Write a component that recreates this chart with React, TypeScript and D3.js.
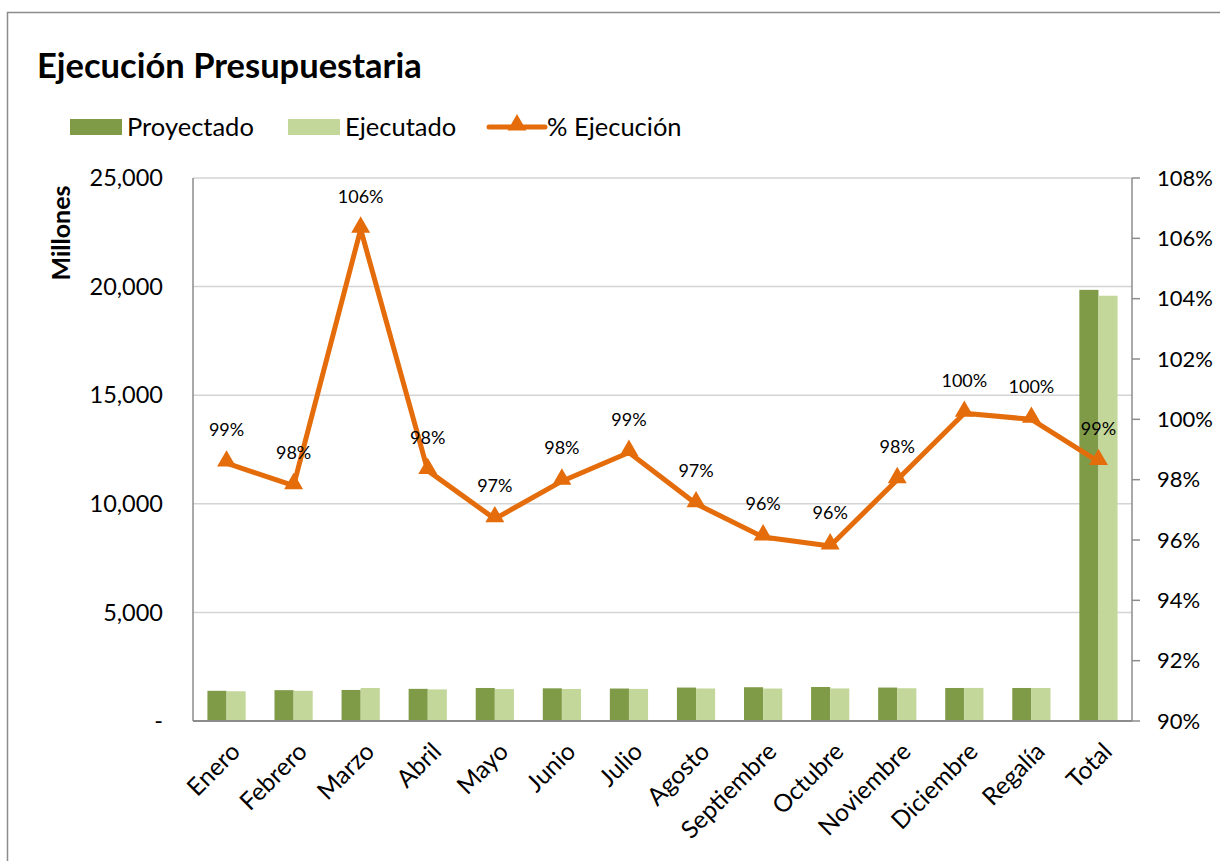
import React from 'react'
import * as d3 from 'd3'

const categories = ['Enero', 'Febrero', 'Marzo', 'Abril', 'Mayo', 'Junio', 'Julio', 'Agosto', 'Septiembre', 'Octubre', 'Noviembre', 'Diciembre', 'Regalía', 'Total']
const proyectado = [1390, 1420, 1430, 1480, 1520, 1505, 1495, 1540, 1555, 1565, 1540, 1520, 1520, 19850]
const ejecutado = [1370, 1390, 1520, 1455, 1470, 1475, 1478, 1497, 1495, 1500, 1509, 1523, 1520, 19580]
const pctEjecucion = [0.9855, 0.978, 1.063, 0.983, 0.967, 0.9795, 0.989, 0.972, 0.961, 0.958, 0.980, 1.002, 1.000, 0.986]
const leftTicks = [0, 5000, 10000, 15000, 20000, 25000]
const rightTicks = [0.90, 0.92, 0.94, 0.96, 0.98, 1.00, 1.02, 1.04, 1.06, 1.08]

const FONT = 'Lato, "Open Sans", sans-serif'
const C_PROY = '#809B48'
const C_EJEC = '#C4D79B'
const C_LINE = '#E46C0A'

export default function App() {
  const width = 1220
  const height = 861
  const plot = { left: 193, right: 1132, top: 178, bottom: 721 }

  const x = d3.scaleBand<string>()
    .domain(categories)
    .range([plot.left, plot.right])
    .paddingInner(0.43)
    .paddingOuter(0.215)
  const inner = d3.scaleBand<string>()
    .domain(['p', 'e'])
    .range([0, x.bandwidth()])
  const y = d3.scaleLinear().domain([0, 25000]).range([plot.bottom, plot.top])
  const yR = d3.scaleLinear().domain([0.9, 1.08]).range([plot.bottom, plot.top])
  const cx = (c: string) => (x(c) as number) + x.bandwidth() / 2

  const fmtL = (v: number) => (v === 0 ? '-' : d3.format(',')(v))
  const fmtR = d3.format('.0%')

  const line = d3.line<number>()
    .x((d, i) => cx(categories[i]))
    .y(d => yR(d))
  const tri = d3.symbol().type(d3.symbolTriangle).size(155)()

  return (
    <svg width={width} height={height} style={{ position: 'absolute', left: 0, top: 0, background: '#fff' }} fontFamily={FONT}>
      <rect x={0} y={0} width={width} height={height} fill="#fff" />
      {/* chart border */}
      <path d={`M7.5,${height + 5} V12.5 H${width + 5}`} fill="none" stroke="#8c8c8c" strokeWidth={1.5} />

      <text x={37} y={78} fontSize={34.5} fontWeight={700} fill="#000">Ejecución Presupuestaria</text>

      {/* legend */}
      <g fontSize={25.5} fill="#000">
        <rect x={70} y={119} width={52} height={16} fill={C_PROY} />
        <text x={127} y={136}>Proyectado</text>
        <rect x={288} y={119} width={52} height={16} fill={C_EJEC} />
        <text x={345} y={136}>Ejecutado</text>
        <line x1={489} x2={545} y1={127} y2={127} stroke={C_LINE} strokeWidth={5} strokeLinecap="round" />
        <path d={tri as string} transform="translate(517,125)" fill={C_LINE} />
        <text x={547} y={136}>% Ejecución</text>
      </g>

      {/* gridlines */}
      {leftTicks.filter(t => t > 0).map(t => (
        <line key={t} x1={plot.left} x2={plot.right} y1={y(t)} y2={y(t)} stroke="#d4d4d4" strokeWidth={1.5} />
      ))}

      {/* bars */}
      {categories.map((c, i) => (
        <g key={c}>
          <rect x={(x(c) as number) + (inner('p') as number)} y={y(proyectado[i])} width={inner.bandwidth()} height={plot.bottom - y(proyectado[i])} fill={C_PROY} />
          <rect x={(x(c) as number) + (inner('e') as number)} y={y(ejecutado[i])} width={inner.bandwidth()} height={plot.bottom - y(ejecutado[i])} fill={C_EJEC} />
        </g>
      ))}

      {/* axes lines */}
      <line x1={plot.left} x2={plot.left} y1={plot.top} y2={plot.bottom} stroke="#8c8c8c" strokeWidth={1.5} />
      <line x1={plot.left} x2={plot.right} y1={plot.bottom} y2={plot.bottom} stroke="#8c8c8c" strokeWidth={2} />
      <line x1={plot.right} x2={plot.right} y1={plot.top} y2={plot.bottom} stroke="#8c8c8c" strokeWidth={1.5} />

      {/* left tick labels */}
      <g fontSize={23.5} fill="#000" textAnchor="end">
        {leftTicks.map(t => (
          <text key={t} x={163} y={y(t)} dy="0.35em">{fmtL(t)}</text>
        ))}
      </g>
      <text transform="translate(70,233) rotate(-90)" textAnchor="middle" fontSize={25} fontWeight={700} fill="#000">Millones</text>

      {/* right axis */}
      <g fontSize={22} fill="#000">
        {rightTicks.map(t => (
          <g key={t}>
            <line x1={plot.right} x2={plot.right + 8} y1={yR(t)} y2={yR(t)} stroke="#8c8c8c" strokeWidth={1.5} />
            <text x={1157} y={yR(t)} dy="0.35em">{fmtR(t)}</text>
          </g>
        ))}
      </g>

      {/* category labels */}
      <g fontSize={24.5} fill="#000" textAnchor="end">
        {categories.map(c => (
          <text key={c} transform={`translate(${cx(c) + 9},${plot.bottom + 26}) rotate(-45)`} dy="0.35em">{c}</text>
        ))}
      </g>

      {/* % line */}
      <path d={line(pctEjecucion) as string} fill="none" stroke={C_LINE} strokeWidth={5} strokeLinejoin="round" />
      {pctEjecucion.map((p, i) => (
        <path key={i} d={tri as string} transform={`translate(${cx(categories[i])},${yR(p) - 2})`} fill={C_LINE} />
      ))}
      <g fontSize={18} fill="#000" textAnchor="middle">
        {pctEjecucion.map((p, i) => (
          <text key={i} x={cx(categories[i])} y={yR(p) - 33} dy="0.35em">{fmtR(p)}</text>
        ))}
      </g>
    </svg>
  )
}
